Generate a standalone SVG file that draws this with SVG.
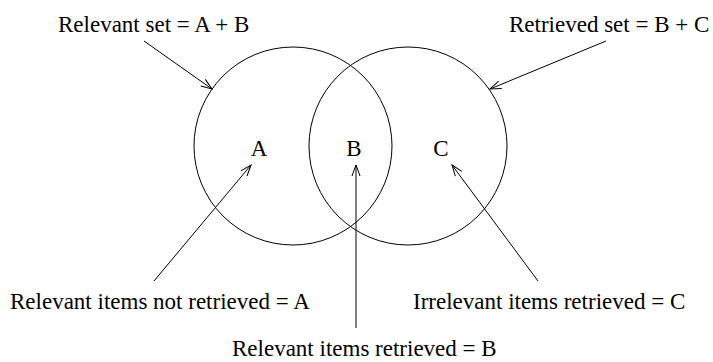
<svg xmlns="http://www.w3.org/2000/svg" width="713" height="362" viewBox="0 0 713 362">
<style>
text{font-family:"Liberation Serif","Times New Roman",serif;font-size:23px;fill:#000}
.set{fill:none;stroke:#000;stroke-width:1}
.conn{fill:none;stroke:#000;stroke-width:1;marker-end:url(#arr)}
</style>
<defs>
<marker id="arr" markerUnits="userSpaceOnUse" markerWidth="14" markerHeight="10" refX="11" refY="4" orient="auto" overflow="visible">
<path d="M0,0 L11,4 L0,8" fill="none" stroke="#000" stroke-width="1"/>
</marker>
</defs>
<rect width="713" height="362" fill="#fff"/>
<g id="relevant-set">
<circle class="set" cx="293" cy="146" r="99"/>
<text x="58" y="32">Relevant set = A + B</text>
</g>
<g id="retrieved-set">
<circle class="set" cx="408" cy="146" r="99"/>
<text x="509" y="32">Retrieved set = B + C</text>
</g>
<g id="region-a"><text x="259" y="156" text-anchor="middle">A</text></g>
<g id="region-b"><text x="354" y="156" text-anchor="middle">B</text></g>
<g id="region-c"><text x="441" y="156" text-anchor="middle">C</text></g>
<g id="label-a"><text x="10" y="309">Relevant items not retrieved = A</text></g>
<g id="label-c"><text x="413" y="309">Irrelevant items retrieved = C</text></g>
<g id="label-b"><text x="232" y="356">Relevant items retrieved = B</text></g>
<g id="connectors">
<line class="conn" x1="144" y1="41" x2="212" y2="89"/>
<line class="conn" x1="606" y1="41" x2="490" y2="89"/>
<line class="conn" x1="154" y1="281" x2="251" y2="165"/>
<line class="conn" x1="356" y1="328" x2="356" y2="165"/>
<line class="conn" x1="538" y1="281" x2="452" y2="165"/>
</g>
</svg>
